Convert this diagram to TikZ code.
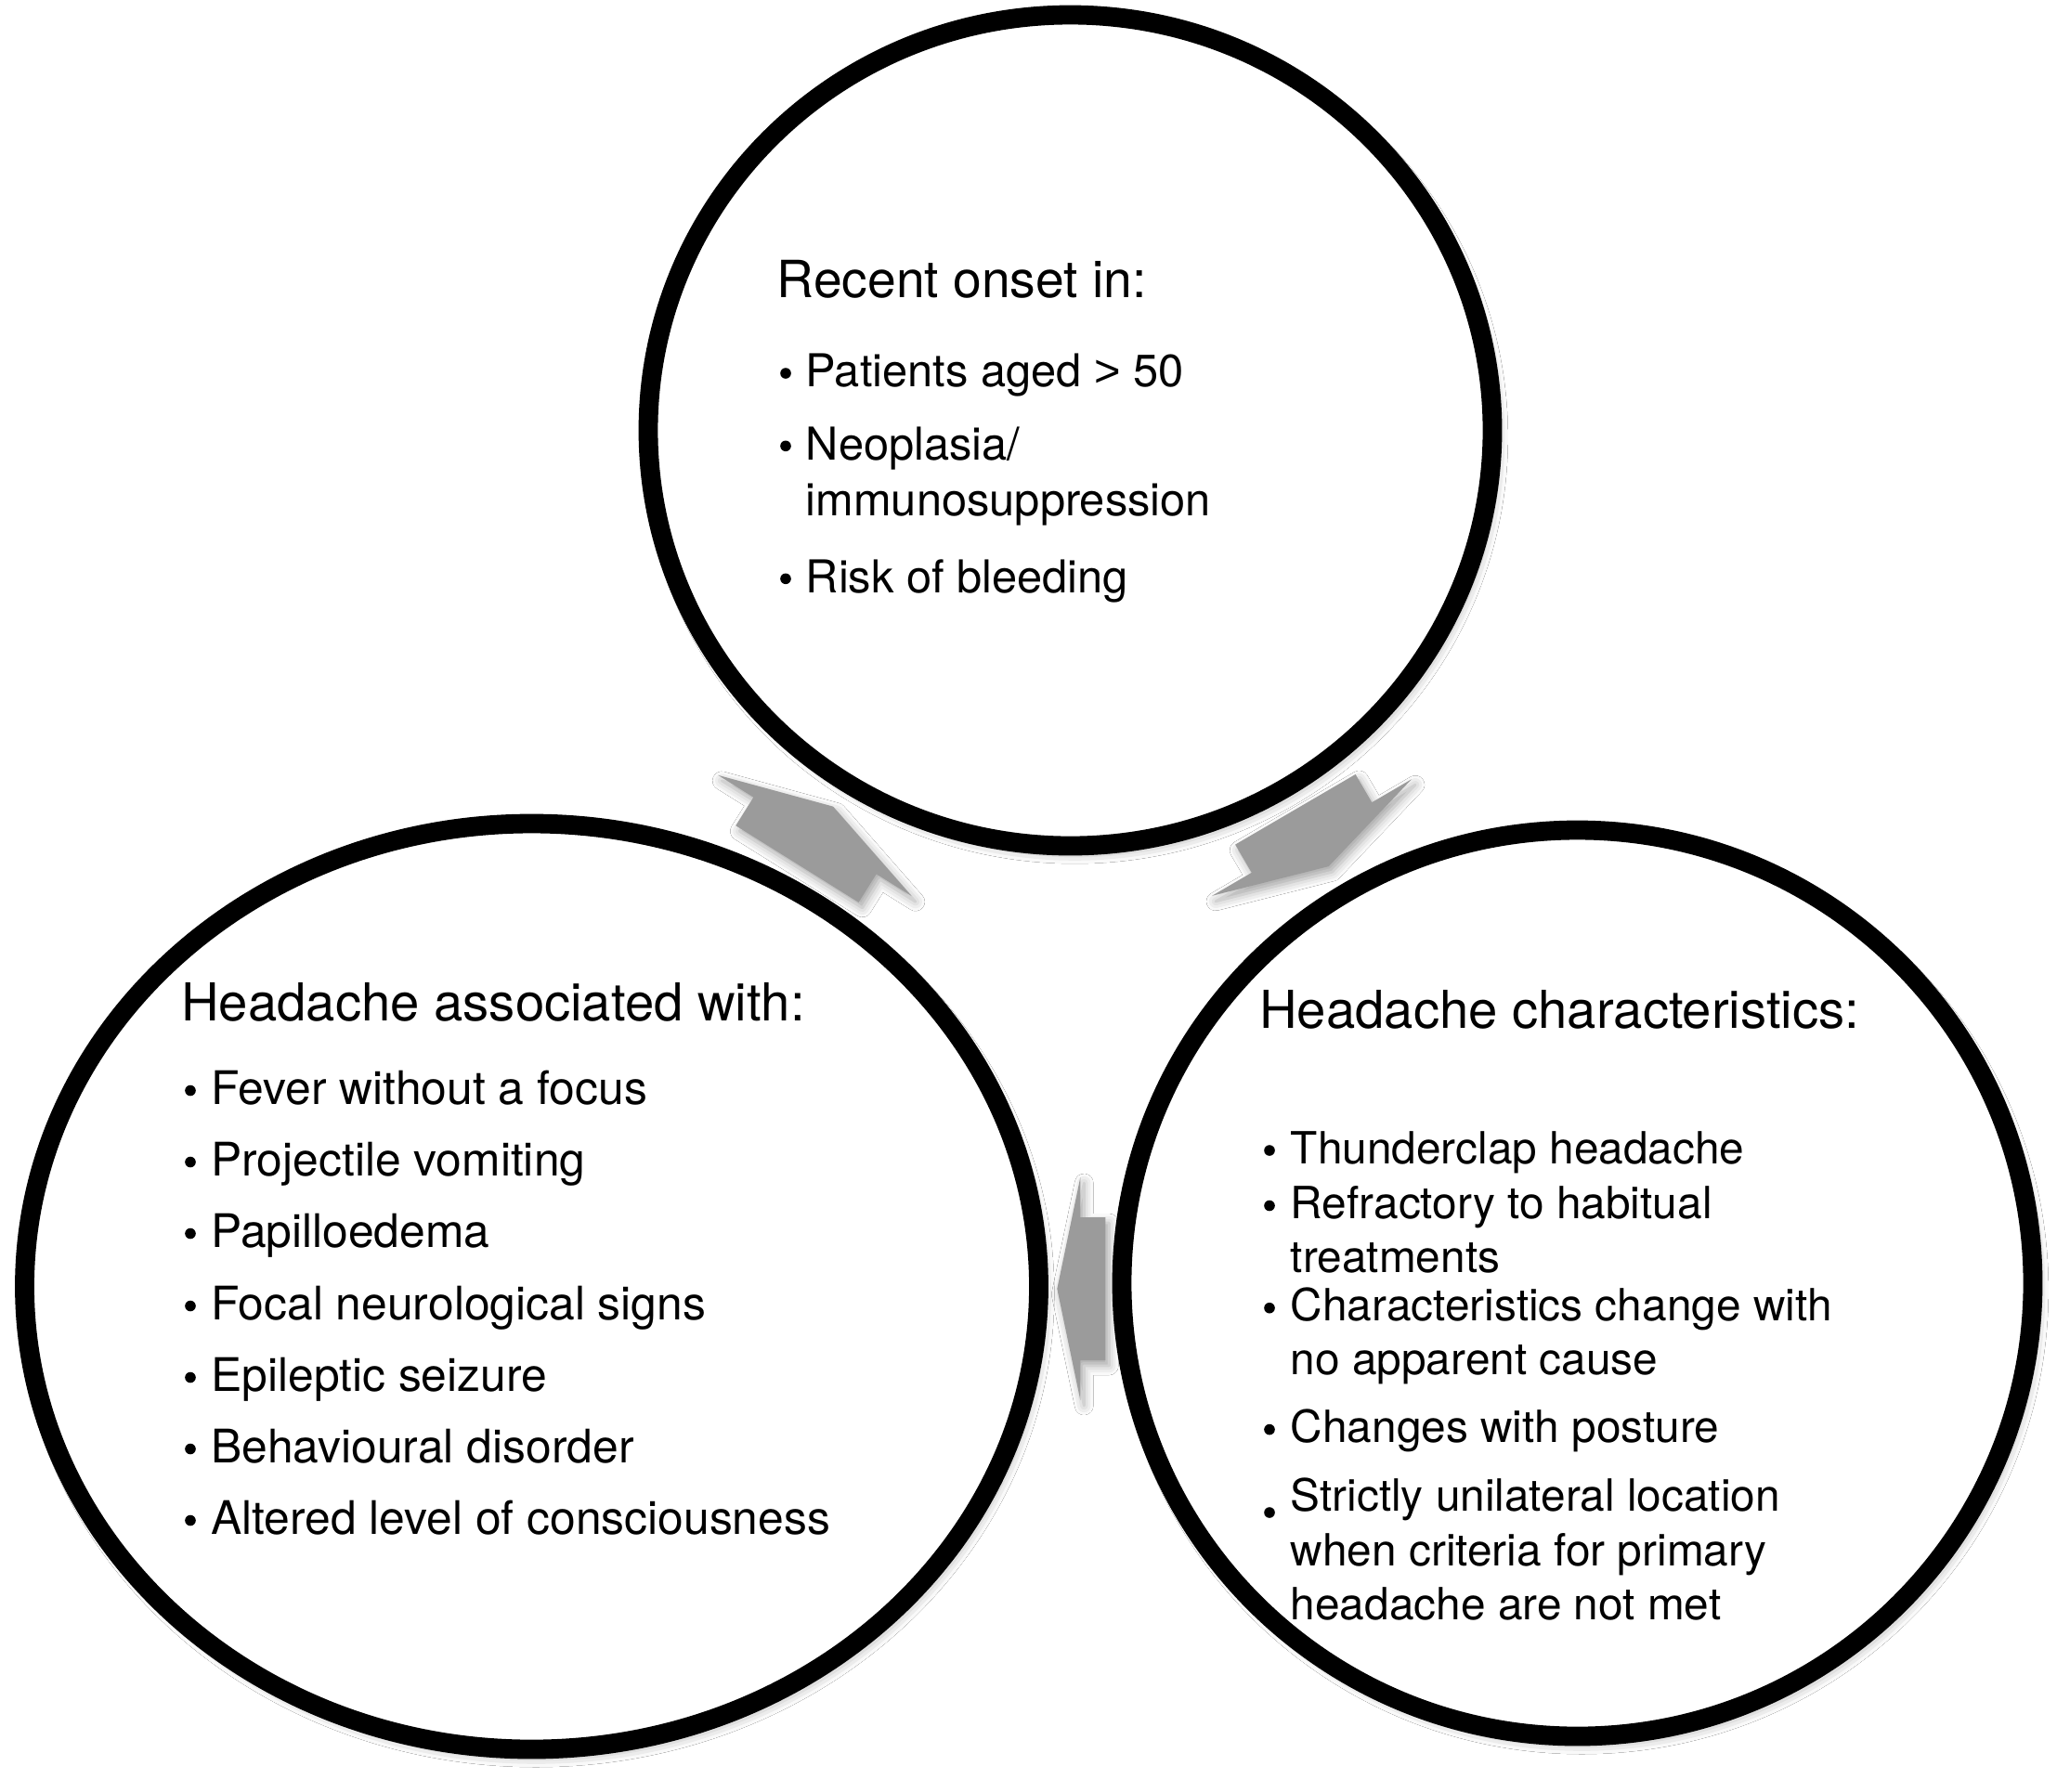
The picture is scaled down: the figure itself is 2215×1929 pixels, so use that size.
\documentclass[tikz,border=0pt]{standalone}
\usepackage{fontspec}
\setmainfont{TeX Gyre Heros}
\newfontfamily\gtfont{Liberation Sans}
\usetikzlibrary{shapes.geometric,shadows.blur}
\definecolor{arrowgray}{RGB}{155,155,155}
\newcommand\cycArrow[4]{\fill[arrowfill] (-#1,-#2) -- (0,-#2) -- (0,-#3) -- (#4,0) -- (0,#3) -- (0,#2) -- (-#1,#2) -- cycle;}
\begin{document}
\begin{tikzpicture}[x=0.25pt, y=-0.25pt,
  ring/.style={ellipse, draw=black, line width=5.2pt, fill=white, inner sep=0pt,
    blur shadow={shadow xshift=1.2pt, shadow yshift=-1.8pt, shadow blur radius=3pt, shadow opacity=40}},
  head/.style={anchor=base west, inner sep=0pt, font=\fontsize{14.07pt}{16pt}\selectfont},
  item/.style={anchor=base west, inner sep=0pt, font=\fontsize{12.2pt}{14pt}\selectfont},
  bul/.style={circle, fill=black, inner sep=0pt, minimum size=2.9pt},
  arrowfill/.style={fill=arrowgray,
    blur shadow={shadow xshift=1pt, shadow yshift=-1.5pt, shadow blur radius=2.5pt, shadow opacity=35}}]
\useasboundingbox (0,0) rectangle (2215,1929);
\fill[white] (0,0) rectangle (2215,1929);

% circles
\node[ring, minimum width=227.25pt, minimum height=223.75pt] (topc) at (1152.5,463.5) {};
\node[ring, minimum width=273pt, minimum height=249.25pt] (leftc) at (572.5,1385.5) {};
\node[ring, minimum width=245.25pt, minimum height=244pt] (rightc) at (1698.5,1382) {};

% top circle text
\node[head, font=\fontsize{13.8pt}{16pt}\selectfont] (tH) at (836,320) {Recent onset in:};
\node[bul] (tb1) at (846,402) {};
\node[item] (t1) at (867,416.7) {Patients aged {\gtfont >} 50};
\node[bul] (tb2) at (846,480.3) {};
\node[item] (t2) at (867,495) {Neoplasia/};
\node[item] (t2b) at (867,555) {immunosuppression};
\node[bul] (tb3) at (846,623.3) {};
\node[item] (t3) at (867,638) {Risk of bleeding};

% left circle text
\node[head] (lH) at (194.5,1099) {Headache associated with:};
\foreach \y/\t [count=\i] in {1189/Fever without a focus, 1266/Projectile vomiting, 1343/Papilloedema, 1421/Focal neurological signs, 1498/Epileptic seizure, 1575/Behavioural disorder, 1652/Altered level of consciousness}{
  \node[bul] (lb\i) at (205,\y-14.5) {};
  \node[item, font=\fontsize{12.45pt}{14pt}\selectfont] (l\i) at (226.5,\y) {\t};
}

% right circle text
\begin{scope}[item/.append style={font=\fontsize{11.95pt}{14pt}\selectfont}]
\node[head] (rH) at (1355.5,1107) {Headache characteristics:};
\node[bul] (rb1) at (1367,1239) {};
\node[item] (r1) at (1389,1253) {Thunderclap headache};
\node[bul] (rb2) at (1367,1298.5) {};
\node[item] (r2) at (1389,1312.5) {Refractory to habitual};
\node[item] (r2b) at (1389,1370) {treatments};
\node[bul] (rb3) at (1367,1408.7) {};
\node[item] (r3) at (1389,1422.7) {Characteristics change with};
\node[item] (r3b) at (1389,1480) {no apparent cause};
\node[bul] (rb4) at (1367,1539.6) {};
\node[item] (r4) at (1389,1553.6) {Changes with posture};
\node[bul] (rb5) at (1367,1629) {};
\node[item] (r5) at (1389,1627) {Strictly unilateral location};
\node[item] (r5b) at (1389,1686.7) {when criteria for primary};
\node[item] (r5c) at (1389,1744) {headache are not met};
\end{scope}

% cycle arrows
\begin{scope}[shift={(877.5,900)}, rotate=58]
  \cycArrow{36}{78}{123}{37}
\end{scope}
\begin{scope}[shift={(1412.5,902)}, rotate=-59.7]
  \cycArrow{35}{75}{124.5}{36}
\end{scope}
\begin{scope}[shift={(1163.3,1388)}, rotate=180]
  \cycArrow{27}{77}{120}{25}
\end{scope}
\end{tikzpicture}
\end{document}
